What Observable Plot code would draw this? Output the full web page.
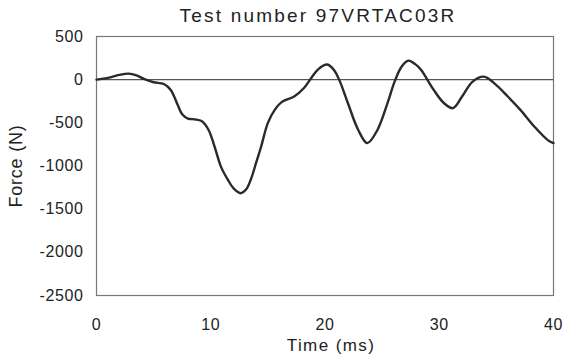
<!DOCTYPE html>
<html>
<head>
<meta charset="utf-8">
<script src="https://cdn.jsdelivr.net/npm/d3@7"></script>
<script src="https://cdn.jsdelivr.net/npm/@observablehq/plot@0.6"></script>
<style>
  html, body { margin: 0; padding: 0; background: #fff; }
</style>
</head>
<body>
<div id="chart"></div>
<script>
const titleText = "Test number 97VRTAC03R";
const xLabel = "Time (ms)";
const yLabel = "Force (N)";
const xTicks = [0, 10, 20, 30, 40];
const yTicks = [500, 0, -500, -1000, -1500, -2000, -2500];

const time = [0, 1, 2, 2.8, 3.5, 4.2, 5, 5.9, 6.5, 7.1, 7.5, 8, 8.6, 9.2, 9.8, 10.3, 10.9, 11.5, 12, 12.6, 13.1, 13.5, 14, 14.4, 15, 15.6, 16.2, 17.3, 18.2, 18.8, 19.4, 20.2, 20.8, 21.3, 22, 22.9, 23.7, 24.6, 25.5, 26.1, 26.7, 27.3, 27.9, 28.4, 29.5, 30.4, 31.2, 32, 32.9, 33.9, 34.8, 36, 37.1, 38.3, 39.5, 40];
const force = [0, 20, 55, 70, 50, 5, -30, -50, -120, -290, -400, -450, -460, -480, -580, -760, -1010, -1160, -1260, -1315, -1270, -1160, -950, -780, -500, -350, -260, -195, -90, 20, 120, 175, 110, -20, -270, -580, -735, -580, -260, -20, 150, 220, 180, 115, -115, -270, -330, -195, -25, 35, -40, -195, -350, -540, -700, -735];

const data = time.map((t, i) => ({t, f: force[i]}));

const plot = Plot.plot({
  width: 564,
  height: 358,
  marginLeft: 96,
  marginRight: 11,
  marginTop: 36,
  marginBottom: 63,
  style: {fontFamily: "'Liberation Sans', Arial, sans-serif", fontSize: "16px", color: "#222", background: "#fff"},
  x: {domain: [0, 40]},
  y: {domain: [-2500, 500]},
  marks: [
    Plot.frame({stroke: "#777", strokeWidth: 1.2}),
    Plot.ruleY([0], {stroke: "#555", strokeWidth: 1.3}),
    Plot.axisX({ticks: xTicks, tickSize: 0, tickPadding: 23, tickFormat: d => String(d), label: null, fill: "#222"}),
    Plot.axisY({ticks: yTicks, tickSize: 0, tickPadding: 13, tickFormat: d => String(d), label: null, fill: "#222"}),
    Plot.line(data, {x: "t", y: "f", curve: "catmull-rom", stroke: "#2a2a2a", strokeWidth: 2.4}),
    Plot.text([titleText], {frameAnchor: "top", textAnchor: "middle", lineAnchor: "middle", dy: -21, dx: -7, fontSize: 19, fill: "#222"}),
    Plot.text([xLabel], {frameAnchor: "bottom", textAnchor: "middle", lineAnchor: "middle", dy: 50, dx: 6, fontSize: 17, fill: "#222"}),
    Plot.text([yLabel], {frameAnchor: "left", textAnchor: "middle", lineAnchor: "middle", rotate: -90, dx: -80, dy: 0, fontSize: 18, fill: "#222"})
  ]
});

document.getElementById("chart").append(plot);
const svg = d3.select(plot.tagName === "svg" ? plot : plot.querySelector("svg"));
svg.selectAll("text").each(function() {
  const s = this.textContent;
  if (s === titleText) this.style.letterSpacing = "2.2px";
  else if (s === xLabel) this.style.letterSpacing = "1.4px";
  else if (s === yLabel) this.style.letterSpacing = "0.8px";
  else this.style.letterSpacing = "0.6px";
});
</script>
</body>
</html>
